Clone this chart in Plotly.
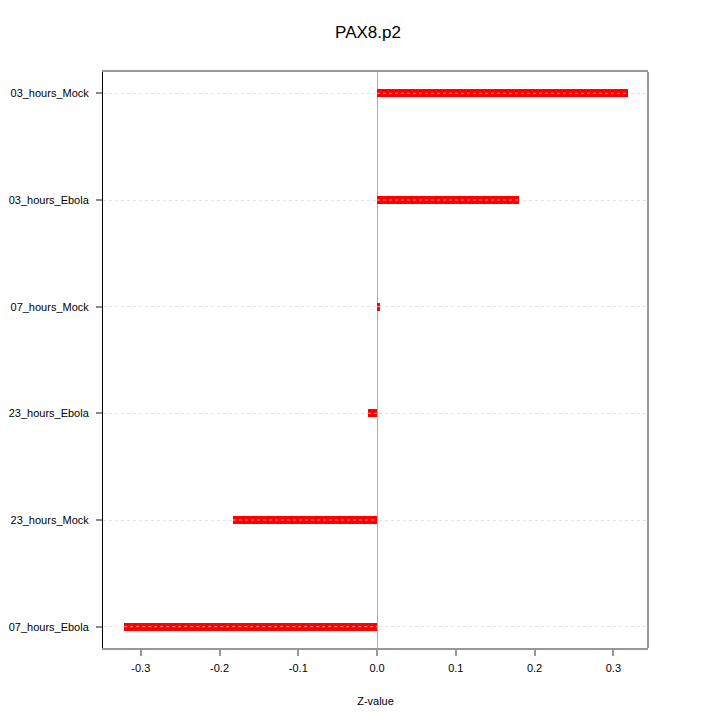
import plotly.graph_objects as go

categories = ["03_hours_Mock", "03_hours_Ebola", "07_hours_Mock",
              "23_hours_Ebola", "23_hours_Mock", "07_hours_Ebola"]
zvalues = [0.318, 0.1805, 0.0042, -0.0118, -0.183, -0.321]
x_ticks = [-0.3, -0.2, -0.1, 0.0, 0.1, 0.2, 0.3]
x_tick_labels = ["-0.3", "-0.2", "-0.1", "0.0", "0.1", "0.2", "0.3"]

font_family = "Liberation Sans, Arial, Helvetica, sans-serif"

fig = go.Figure()
fig.add_trace(go.Bar(
    x=zvalues, y=categories, orientation="h", base=0,
    width=0.075, marker=dict(color="#ff0000", line=dict(width=0)),
    showlegend=False, hoverinfo="x+y",
))
# dotted grid line drawn over the bars
gx, gy = [], []
for c, v in zip(categories, zvalues):
    gx += [min(0, v), max(0, v), None]
    gy += [c, c, None]
fig.add_trace(go.Scatter(
    x=gx, y=gy, mode="lines",
    line=dict(color="rgba(240,170,170,0.9)", width=1, dash="dot"),
    showlegend=False, hoverinfo="skip",
))

fig.update_layout(
    width=720, height=720,
    margin=dict(l=95, r=80, t=64, b=80),
    paper_bgcolor="white", plot_bgcolor="white",
    font=dict(family=font_family, size=11, color="black"),
    title=dict(text="PAX8.p2", x=0.5, xanchor="center", y=0.966, yanchor="middle",
               font=dict(size=17, family=font_family, color="black")),
    bargap=0,
)
fig.update_xaxes(
    range=[-0.348, 0.344], tickvals=x_ticks, ticktext=x_tick_labels,
    showline=True, linecolor="#999999", linewidth=2, mirror=True,
    ticks="outside", ticklen=6, tickwidth=1.5, tickcolor="#999999",
    ticklabelstandoff=3, automargin=False,
    showgrid=False, zeroline=True, zerolinecolor="#66dd66", zerolinewidth=1,
    title=dict(text="Z-value", font=dict(size=11), standoff=24),
    tickfont=dict(size=11),
)
fig.update_yaxes(
    categoryorder="array", categoryarray=categories,
    range=[5.2, -0.2],
    showline=True, linecolor="black", linewidth=1, mirror=False,
    ticks="outside", ticklen=6, tickwidth=1.5, tickcolor="#888888",
    ticklabelstandoff=5, automargin=False,
    showgrid=True, gridcolor="#e2e2e2", gridwidth=1, griddash="dot",
    zeroline=False, tickfont=dict(size=11),
)
fig.add_shape(type="line", xref="paper", yref="paper", x0=1, x1=1, y0=0, y1=1,
              line=dict(color="#999999", width=2))

fig.write_html("out.html")
